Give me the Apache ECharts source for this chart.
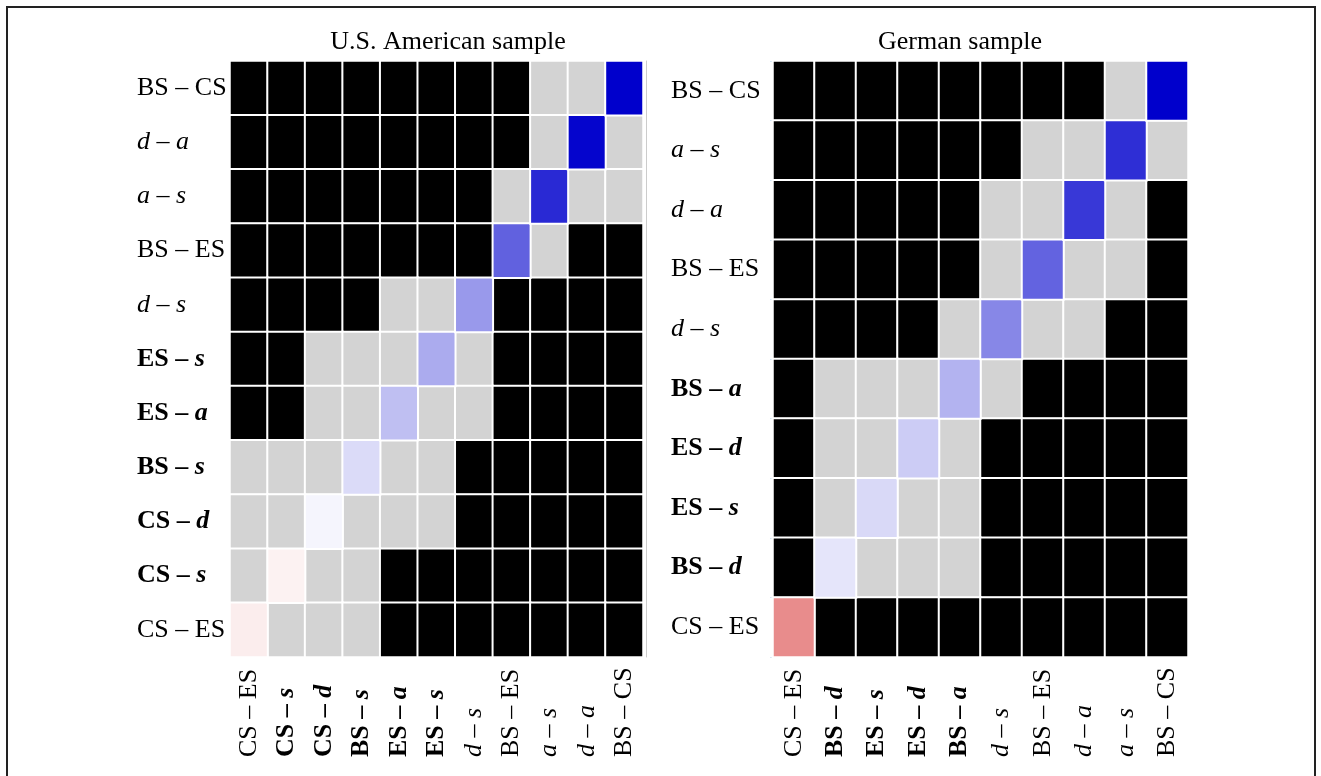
<!DOCTYPE html>
<html>
<head>
<meta charset="utf-8">
<script src="https://cdn.jsdelivr.net/npm/echarts@6/dist/echarts.min.js"></script>
<style>
  html, body { margin: 0; padding: 0; background: #fff; }
  #chart { width: 1321px; height: 776px; }
  #frame { position: absolute; left: 6px; top: 6px; width: 1306px; height: 820px; border: 2px solid #222; pointer-events: none; }
</style>
</head>
<body>
<div id="chart"></div>
<div id="frame"></div>
<script>
// ---- Data ----
const usTitle = 'U.S. American sample';
const deTitle = 'German sample';

// categories in axis order (bottom row / left column first)
const usCats = ['CS – ES', 'CS – s', 'CS – d', 'BS – s', 'ES – a', 'ES – s', 'd – s', 'BS – ES', 'a – s', 'd – a', 'BS – CS'];
const deCats = ['CS – ES', 'BS – d', 'ES – s', 'ES – d', 'BS – a', 'd – s', 'BS – ES', 'd – a', 'a – s', 'BS – CS'];

// significance matrix, rows listed top-to-bottom as displayed; 1 = significant (black), 0 = not significant (grey), null = diagonal
const usSig = [
  [1, 1, 1, 1, 1, 1, 1, 1, 0, 0, null],
  [1, 1, 1, 1, 1, 1, 1, 1, 0, null, 0],
  [1, 1, 1, 1, 1, 1, 1, 0, null, 0, 0],
  [1, 1, 1, 1, 1, 1, 1, null, 0, 1, 1],
  [1, 1, 1, 1, 0, 0, null, 1, 1, 1, 1],
  [1, 1, 0, 0, 0, null, 0, 1, 1, 1, 1],
  [1, 1, 0, 0, null, 0, 0, 1, 1, 1, 1],
  [0, 0, 0, null, 0, 0, 1, 1, 1, 1, 1],
  [0, 0, null, 0, 0, 0, 1, 1, 1, 1, 1],
  [0, null, 0, 0, 1, 1, 1, 1, 1, 1, 1],
  [null, 0, 0, 0, 1, 1, 1, 1, 1, 1, 1]
];
const deSig = [
  [1, 1, 1, 1, 1, 1, 1, 1, 0, null],
  [1, 1, 1, 1, 1, 1, 0, 0, null, 0],
  [1, 1, 1, 1, 1, 0, 0, null, 0, 1],
  [1, 1, 1, 1, 1, 0, null, 0, 0, 1],
  [1, 1, 1, 1, 0, null, 0, 0, 1, 1],
  [1, 0, 0, 0, null, 0, 1, 1, 1, 1],
  [1, 0, 0, null, 0, 1, 1, 1, 1, 1],
  [1, 0, null, 0, 0, 1, 1, 1, 1, 1],
  [1, null, 0, 0, 0, 1, 1, 1, 1, 1],
  [null, 1, 1, 1, 1, 1, 1, 1, 1, 1]
];

// diagonal (colour-coded) values, in category order; negative = red, positive = blue
const usDiag = [-0.07, -0.05, 0.04, 0.14, 0.25, 0.33, 0.40, 0.62, 0.84, 0.98, 1.00];
const deDiag = [-0.45, 0.10, 0.15, 0.20, 0.30, 0.47, 0.61, 0.78, 0.82, 1.00];

// ---- Build series data ----
function sigData(mat) {
  const n = mat.length, out = [];
  mat.forEach((row, r) => {
    row.forEach((v, c) => {
      if (v !== null) out.push([c, n - 1 - r, v]);
    });
  });
  return out;
}
function diagData(vals) {
  return vals.map((v, i) => [i, i, v]);
}

// label formatting: single lowercase letters italic; mixed pairs bold
function fmt(label) {
  const parts = label.split(' – ');
  const isVar = p => /^[a-z]$/.test(p);
  const mixed = isVar(parts[0]) !== isVar(parts[1]);
  const st = p => (isVar(p) ? (mixed ? 'bi' : 'i') : (mixed ? 'b' : 'n'));
  return '{' + st(parts[0]) + '|' + parts[0] + '}{' + (mixed ? 'b' : 'n') + '| – }{' + st(parts[1]) + '|' + parts[1] + '}';
}
const FONT = 'Liberation Serif, Times New Roman, serif';
const FS = 26;
const rich = {
  n: { fontFamily: FONT, fontSize: FS, color: '#000' },
  i: { fontFamily: FONT, fontSize: FS, color: '#000', fontStyle: 'italic' },
  b: { fontFamily: FONT, fontSize: FS, color: '#000', fontWeight: 'bold' },
  bi: { fontFamily: FONT, fontSize: FS, color: '#000', fontWeight: 'bold', fontStyle: 'italic' }
};

const grids = [
  { left: 230, top: 61, width: 413, height: 596 },
  { left: 773, top: 61, width: 415, height: 596 }
];

function xAxis(cats, gi) {
  return {
    type: 'category', gridIndex: gi, data: cats,
    axisLine: { show: false }, axisTick: { show: false }, splitLine: { show: false },
    axisLabel: { rotate: 90, align: 'left', margin: 100, formatter: fmt, rich: rich, interval: 0 }
  };
}
function yAxis(cats, gi, margin, tickColor) {
  return {
    type: 'category', gridIndex: gi, data: cats,
    axisLine: { show: false },
    axisTick: { show: !!tickColor, length: 3, lineStyle: { color: tickColor || '#fff' } },
    splitLine: { show: false },
    axisLabel: { align: 'left', margin: margin, formatter: fmt, rich: rich, interval: 0 }
  };
}

const cellStyle = { borderColor: '#ffffff', borderWidth: 2 };

const option = {
  backgroundColor: '#ffffff',
  animation: false,
  title: [
    { text: usTitle, left: 443, top: 24, textAlign: 'center',
      textStyle: { fontFamily: FONT, fontSize: 26, fontWeight: 'normal', color: '#000' } },
    { text: deTitle, left: 955, top: 24, textAlign: 'center',
      textStyle: { fontFamily: FONT, fontSize: 26, fontWeight: 'normal', color: '#000' } }
  ],
  grid: grids,
  xAxis: [xAxis(usCats, 0), xAxis(deCats, 1)],
  yAxis: [
    yAxis(usCats, 0, 93),
    yAxis(deCats, 1, 102, '#d6e8f7'),
    { type: 'category', gridIndex: 0, position: 'right', offset: 3, data: usCats,
      axisLine: { show: true, lineStyle: { color: '#cccccc', width: 1 } },
      axisTick: { show: false }, axisLabel: { show: false }, splitLine: { show: false } }
  ],
  visualMap: [
    { type: 'piecewise', show: false, seriesIndex: [0, 2], dimension: 2,
      pieces: [ { value: 1, color: '#000000' }, { value: 0, color: '#d3d3d3' } ] },
    { type: 'continuous', show: false, seriesIndex: [1, 3], dimension: 2, min: -1, max: 1,
      inRange: { color: ['#cc0000', '#ffffff', '#0000cc'] } }
  ],
  series: [
    { type: 'heatmap', xAxisIndex: 0, yAxisIndex: 0, data: sigData(usSig), itemStyle: cellStyle, emphasis: { disabled: true } },
    { type: 'heatmap', xAxisIndex: 0, yAxisIndex: 0, data: diagData(usDiag), itemStyle: cellStyle, emphasis: { disabled: true } },
    { type: 'heatmap', xAxisIndex: 1, yAxisIndex: 1, data: sigData(deSig), itemStyle: cellStyle, emphasis: { disabled: true } },
    { type: 'heatmap', xAxisIndex: 1, yAxisIndex: 1, data: diagData(deDiag), itemStyle: cellStyle, emphasis: { disabled: true } }
  ]
};

const chart = echarts.init(document.getElementById('chart'), null, { renderer: 'canvas' });
chart.setOption(option);
</script>
</body>
</html>
